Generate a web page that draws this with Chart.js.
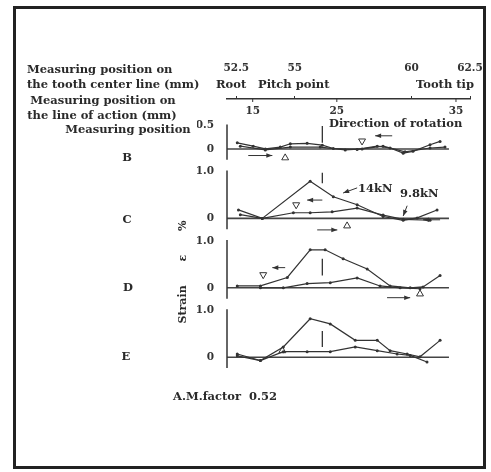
<!DOCTYPE html>
<html>
<head>
<meta charset="utf-8">
<script src="https://cdn.jsdelivr.net/npm/chart.js@4.4.0/dist/chart.umd.min.js"></script>
<style>
  body { margin: 0; background: #fff; }
  #frame { position: absolute; left: 13px; top: 6px; width: 467px; height: 457px; border: 3px solid #222; }
  #chart { position: absolute; left: 0; top: 0; }
  .t { position: absolute; font: bold 11.5px "DejaVu Serif"; color: #2a2a2a; white-space: nowrap; line-height: 1; transform: translateY(-50%); }
  .c { transform: translate(-50%, -50%); }
  .r { transform: translate(-100%, -50%); }
  #ylab { position: absolute; left: 182px; top: 272px; font: bold 11px "DejaVu Serif"; color: #2a2a2a; white-space: nowrap;
          word-spacing: 20px; transform: translate(-50%, -50%) rotate(-90deg); }
</style>
</head>
<body>
<div id="frame"></div>
<canvas id="chart" width="491" height="472"></canvas>

<div class="t" style="left:27px;top:70px">Measuring position on</div>
<div class="t" style="left:27px;top:85px">the tooth center line (mm)</div>
<div class="t c" style="left:103px;top:101px">Measuring position on</div>
<div class="t c" style="left:102px;top:116px">the line of action (mm)</div>
<div class="t c" style="left:128px;top:130px">Measuring position</div>
<div class="t c" style="left:127px;top:158px">B</div>
<div class="t c" style="left:127px;top:220px">C</div>
<div class="t c" style="left:128px;top:288px">D</div>
<div class="t c" style="left:126px;top:357px">E</div>
<div class="t" style="left:216px;top:85px">Root</div>
<div class="t" style="left:258px;top:85px">Pitch point</div>
<div class="t r" style="left:474px;top:85px">Tooth tip</div>
<div class="t" style="left:329px;top:124px">Direction of rotation</div>
<div class="t" style="left:358px;top:189px">14kN</div>
<div class="t" style="left:400px;top:194px">9.8kN</div>
<div class="t" style="left:173px;top:397px">A.M.factor&nbsp; 0.52</div>
<div id="ylab">Strain ε %</div>

<script>
// top axis: tooth center line (mm) and line of action (mm)
const toothTicks = [52.5, 55, 60, 62.5];
const lineOfActionTicks = ['15', '25', '35'];
const lineOfActionPos = [53.2, 56.8, 61.9];   // where they sit on the tooth center line

// strain (%), x = position on tooth center line (mm)
const posB14 = [52.54, 53.22, 53.74, 54.38, 54.81, 55.53, 56.18, 56.65, 57.67, 58.53, 59.08, 59.64, 60.06, 60.79, 61.22];
const strainB14 = [0.13, 0.06, 0, 0.04, 0.11, 0.12, 0.08, 0.01, -0.01, 0.06, 0.02, -0.09, -0.05, 0.09, 0.16];
const posB98 = [52.67, 53.74, 54.81, 56.09, 57.16, 57.88, 58.78, 59.72, 60.79, 61.43];
const strainB98 = [0.06, -0.02, 0.04, 0.04, -0.02, 0, 0.06, -0.06, 0.02, 0.04];

const posC14 = [52.59, 53.61, 55.66, 56.65, 57.67, 58.78, 59.64, 60.24, 61.09];
const strainC14 = [0.18, 0, 0.79, 0.46, 0.29, 0.04, -0.04, 0.01, 0.18];
const posC98 = [52.67, 53.61, 54.94, 55.66, 56.60, 57.67, 58.78, 59.64, 60.79];
const strainC98 = [0.08, 0, 0.12, 0.12, 0.14, 0.22, 0.07, -0.02, -0.04];

const posD14 = [52.54, 53.53, 54.68, 55.66, 56.30, 57.07, 58.10, 59.08, 59.94, 60.49, 61.22];
const strainD14 = [0.04, 0.04, 0.22, 0.81, 0.81, 0.62, 0.40, 0.04, 0, 0.02, 0.26];
const posD98 = [53.53, 54.51, 55.53, 56.52, 57.67, 58.65, 59.51, 60.36];
const strainD98 = [0, 0, 0.09, 0.11, 0.21, 0.04, 0, -0.02];

const posE14 = [52.54, 53.53, 54.51, 55.66, 56.52, 57.59, 58.53, 59.08, 59.81, 60.36, 61.22];
const strainE14 = [0.07, -0.07, 0.22, 0.82, 0.71, 0.36, 0.36, 0.14, 0.07, 0.01, 0.36];
const posE98 = [52.54, 53.53, 54.51, 55.53, 56.52, 57.59, 58.53, 59.38, 59.94, 60.66];
const strainE98 = [0.03, -0.07, 0.12, 0.12, 0.12, 0.22, 0.14, 0.07, 0.04, -0.10];

// pitch point mark in each panel
const pitchMark = 56.18;
const pitchBarB = [0.13, 0.49];
const pitchBarC = [0.75, 0.97];
const pitchBarD = [0.26, 0.62];
const pitchBarE = [0.22, 0.56];

// open triangles
const upMarkPanel = ['yB', 'yC', 'yD', 'yE'];
const upMarkPos = [54.59, 57.24, 60.36, 54.47];
const upMarkStrain = [-0.19, -0.16, -0.13, 0.14];
const downMarkPanel = ['yB', 'yC', 'yD'];
const downMarkPos = [57.88, 55.06, 53.65];
const downMarkStrain = [0.17, 0.29, 0.28];

// arrows (head at the second point)
const arrowPanel = ['yB', 'yB', 'yC', 'yC', 'yC', 'yD', 'yD', 'yC', 'yC'];
const arrowX1 = [53.01, 59.17, 56.18, 55.96, 61.22, 54.59, 58.95, 57.67, 59.81];
const arrowY1 = [-0.14, 0.28, 0.39, -0.245, -0.03, 0.43, -0.21, 0.65, 0.27];
const arrowX2 = [54.04, 58.44, 55.53, 56.82, 60.49, 54.04, 59.94, 57.07, 59.64];
const arrowY2 = [-0.14, 0.28, 0.39, -0.245, -0.03, 0.43, -0.21, 0.54, 0.05];

const zeroLineEnd = 61.6;
const ink = '#333';
const font = { family: 'DejaVu Serif', size: 10.5, weight: 'bold' };

function series(id, pos, strain) {
    return {
        yAxisID: id,
        showLine: true,
        data: pos.map((x, i) => ({ x: x, y: strain[i] })),
        borderColor: ink,
        borderWidth: 1.2,
        pointRadius: 1.5,
        pointBorderWidth: 0,
        pointBackgroundColor: ink
    };
}

function pitchBar(id, range) {
    return {
        yAxisID: id,
        showLine: true,
        data: range.map(v => ({ x: pitchMark, y: v })),
        borderColor: ink,
        borderWidth: 1.3,
        pointRadius: 0
    };
}

function marks(ids, pos, strain, id, rotation) {
    const data = [];
    ids.forEach((p, i) => { if (p === id) data.push({ x: pos[i], y: strain[i] }); });
    return {
        yAxisID: id,
        data: data,
        pointStyle: 'triangle',
        rotation: rotation,
        pointRadius: 4,
        borderWidth: 1,
        borderColor: ink,
        backgroundColor: '#fff'
    };
}

function yScale(weight, min, max, ticks) {
    return {
        type: 'linear',
        position: 'left',
        stack: 'strain',
        stackWeight: weight,
        min: min,
        max: max,
        afterBuildTicks: s => { s.ticks = ticks.map(v => ({ value: v })); },
        afterFit: s => { s.width = 30; s.paddingTop = 0; s.paddingBottom = 0; },
        grid: { display: false },
        border: { display: false },
        ticks: { padding: 5, font: font, color: ink, callback: v => v === 0 ? '0' : v.toFixed(1) }
    };
}

const panels = ['yB', 'yC', 'yD', 'yE'];
const datasets = [
    series('yB', posB14, strainB14), series('yB', posB98, strainB98),
    series('yC', posC14, strainC14), series('yC', posC98, strainC98),
    series('yD', posD14, strainD14), series('yD', posD98, strainD98),
    series('yE', posE14, strainE14), series('yE', posE98, strainE98),
    pitchBar('yB', pitchBarB), pitchBar('yC', pitchBarC), pitchBar('yD', pitchBarD), pitchBar('yE', pitchBarE)
];
panels.forEach(id => {
    datasets.push(marks(upMarkPanel, upMarkPos, upMarkStrain, id, 0));
    datasets.push(marks(downMarkPanel, downMarkPos, downMarkStrain, id, 180));
});

// zero lines, axis stubs, line of action ticks and arrows
const figurePlugin = {
    id: 'figure',
    beforeDatasetsDraw(chart) {
        const ctx = chart.ctx, x = chart.scales.x;
        ctx.save();
        ctx.strokeStyle = '#444';
        ctx.lineWidth = 1.6;
        panels.forEach(id => {
            const y = chart.scales[id].getPixelForValue(0);
            ctx.beginPath();
            ctx.moveTo(x.left, y);
            ctx.lineTo(x.getPixelForValue(zeroLineEnd), y);
            ctx.stroke();
        });
        ctx.restore();
    },
    afterDatasetsDraw(chart) {
        const ctx = chart.ctx, x = chart.scales.x;
        ctx.save();
        ctx.strokeStyle = ink;
        ctx.fillStyle = ink;
        ctx.lineWidth = 1.5;
        panels.forEach(id => {
            const s = chart.scales[id];
            const top = id === 'yB' ? 0.52 : 1.02;
            ctx.beginPath();
            ctx.moveTo(x.left, s.getPixelForValue(top));
            ctx.lineTo(x.left, s.getPixelForValue(-0.23));
            ctx.stroke();
        });

        // line of action ticks under the top axis
        ctx.lineWidth = 1;
        ctx.font = 'bold 10.5px "DejaVu Serif"';
        ctx.textAlign = 'center';
        ctx.textBaseline = 'middle';
        lineOfActionPos.forEach((v, i) => {
            const px = x.getPixelForValue(v);
            ctx.beginPath();
            ctx.moveTo(px, x.bottom);
            ctx.lineTo(px, x.bottom + 3);
            ctx.stroke();
            ctx.fillText(lineOfActionTicks[i], px, x.bottom + 12);
        });

        // arrows
        arrowPanel.forEach((id, i) => {
            const s = chart.scales[id];
            const x1 = x.getPixelForValue(arrowX1[i]), y1 = s.getPixelForValue(arrowY1[i]);
            const x2 = x.getPixelForValue(arrowX2[i]), y2 = s.getPixelForValue(arrowY2[i]);
            const a = Math.atan2(y2 - y1, x2 - x1);
            ctx.beginPath();
            ctx.moveTo(x1, y1);
            ctx.lineTo(x2, y2);
            ctx.stroke();
            ctx.beginPath();
            ctx.moveTo(x2, y2);
            ctx.lineTo(x2 - 6 * Math.cos(a) + 2.3 * Math.sin(a), y2 - 6 * Math.sin(a) - 2.3 * Math.cos(a));
            ctx.lineTo(x2 - 6 * Math.cos(a) - 2.3 * Math.sin(a), y2 - 6 * Math.sin(a) + 2.3 * Math.cos(a));
            ctx.closePath();
            ctx.fill();
        });
        ctx.restore();
    }
};

new Chart(document.getElementById('chart'), {
    type: 'scatter',
    data: { datasets: datasets },
    options: {
        responsive: false,
        animation: false,
        events: [],
        layout: { padding: { left: 197, top: 59, right: 21, bottom: 103 } },
        plugins: { legend: { display: false }, tooltip: { enabled: false } },
        scales: {
            x: {
                type: 'linear',
                position: 'top',
                min: 52.1,
                max: 62.5,
                afterBuildTicks: s => { s.ticks = toothTicks.map(v => ({ value: v })); },
                afterFit: s => { s.height = 40; s.paddingLeft = 0; s.paddingRight = 0; },
                grid: { drawOnChartArea: false, tickLength: 3, color: ink },
                border: { color: ink, width: 1.5 },
                ticks: { padding: 21, maxRotation: 0, font: font, color: ink, callback: v => String(v) }
            },
            // last one is placed on top of the stack
            yE: yScale(69.5, -0.25, 1.2287, [0, 1]),
            yD: yScale(69.5, -0.25, 1.2287, [0, 1]),
            yC: yScale(69.5, -0.25, 1.2287, [0, 1]),
            yB: yScale(61.75, -0.25, 1.0638, [0, 0.5])
        }
    },
    plugins: [figurePlugin]
});
</script>
</body>
</html>
